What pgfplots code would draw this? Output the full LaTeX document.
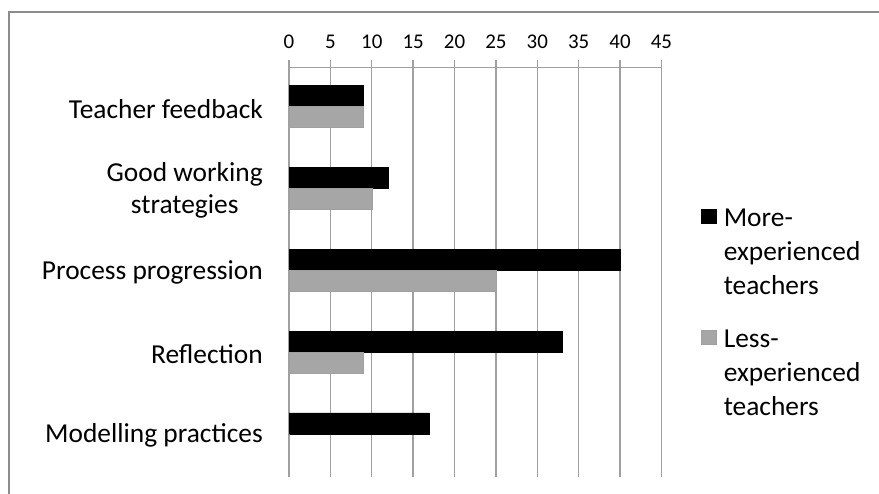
\documentclass[border=0pt]{standalone}
\usepackage{fontspec}
\setmainfont{Carlito}
\usepackage{pgfplots}
\pgfplotsset{compat=1.18}

\definecolor{gridgray}{HTML}{A0A0A0}
\definecolor{barless}{HTML}{A6A6A6}
\definecolor{framegray}{HTML}{8C8C8C}

\begin{document}
\begin{tikzpicture}[x=1bp,y=1bp]
\useasboundingbox (0,0) rectangle (879,494);
% outer chart frame
\draw[framegray, line width=1.3bp] (9,-5) -- (9,482) -- (884,482);
\begin{axis}[
  at={(289bp,17.3bp)}, anchor=south west,
  scale only axis, width=372.4bp, height=409bp,
  xbar, bar width=21bp,
  xmin=0, xmax=45, ymin=-0.5, ymax=4.5,
  axis x line*=top, axis y line*=left,
  axis line style={gridgray, line width=1.3bp},
  xtick={0,5,...,45},
  xmajorgrids, grid style={gridgray, line width=1.3bp},
  tick align=outside,
  major tick length=7.7bp, minor tick length=9bp,
  xtick style={gridgray, line width=1.3bp},
  ytick={0,1,2,3,4},
  yticklabels={Modelling practices, Reflection, Process progression, {Good working\\strategies}, Teacher feedback},
  ytick style={draw=none},
  minor ytick={-0.5,0.5,...,4.5},
  minor y tick style={gridgray, line width=1.3bp},
  /pgf/number format/assume math mode=true,
  xticklabel style={font=\fontsize{21}{24}\selectfont, yshift=8bp},
  yticklabel style={font=\fontsize{27.5}{32.5}\selectfont, align=center, xshift=-15bp},
  legend cell align=left,
  legend style={draw=none, fill=none, at={(1,1)}, anchor=north west,
    xshift=36bp, yshift=-137bp, row sep=30bp,
    nodes={align=left, font=\fontsize{27.5}{34}\selectfont}},
  legend image code/.code={\fill[#1] (0bp,29bp) rectangle (15bp,43bp);
    \path[draw=none, fill=none] (0bp,30bp) -- (21bp,30bp);},
]
\addplot[fill=black, draw=black, bar shift=12.4bp]
  coordinates {(9,4) (12,3) (40,2) (33,1) (17,0)};
\addplot[fill=barless, draw=gridgray, bar shift=-8.6bp]
  coordinates {(9,4) (10,3) (25,2) (9,1) (0,0)};
\legend{{More-\\experienced\\teachers}, {Less-\\experienced\\teachers}}
\end{axis}
\end{tikzpicture}
\end{document}
